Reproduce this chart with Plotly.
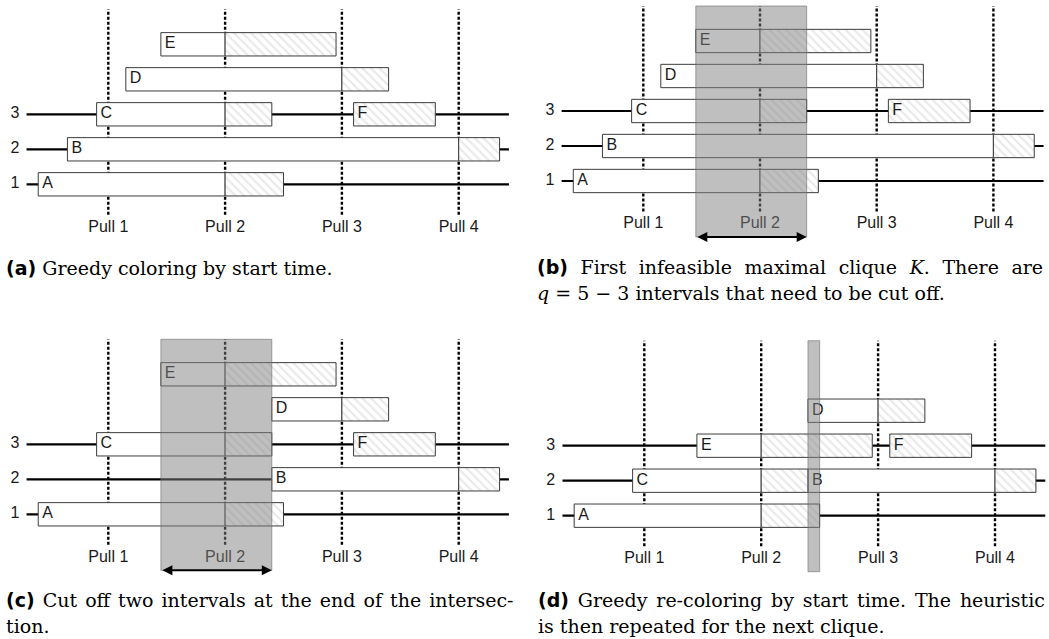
import plotly.graph_objects as go

W, H = 1049, 639

# ---------------- data ----------------
interval_names = ["A", "B", "C", "D", "E", "F"]
pulls = [1, 2, 3, 4]
pull_labels = ["Pull 1", "Pull 2", "Pull 3", "Pull 4"]
row_ids = [1, 2, 3]
row_labels = ["1", "2", "3"]

end_times = [2.50, 4.35, 2.40, 3.40, 2.95, 3.80]
hatch_from = [2.0, 4.0, 2.0, 3.0, 2.0, 3.10]

start_a = [0.40, 0.65, 0.90, 1.15, 1.45, 3.10]
rows_a = [1, 2, 3, 4, 5, 3]

start_c = [0.40, 2.40, 0.90, 2.40, 1.45, 3.10]
rows_c = [1, 2, 3, 4, 5, 3]
rows_d = [1, 2, 2, 4, 3, 3]

clique_b = [1.45, 2.40]
clique_d = [2.40, 2.50]

row_line_span = [0.30, 4.43]

BOLD = '<span style="font-family:DejaVu Sans"><b>{}</b></span>'


def ws(text, px):
    return '<span style="word-spacing:{}px">{}</span>'.format(px, text)


captions = {
    "a": [BOLD.format("(a)") + " Greedy coloring by start time."],
    "b": [BOLD.format("(b)") + ws(" First infeasible maximal clique <i>K</i>. There are", 6.5),
          "<i>q</i> = 5 − 3 intervals that need to be cut off."],
    "c": [BOLD.format("(c)") + ws(" Cut off two intervals at the end of the intersec-", 2.0),
          "tion."],
    "d": [BOLD.format("(d)") + ws(" Greedy re-coloring by start time. The heuristic", 2.8),
          "is then repeated for the next clique."],
}

# ---------------- layout helpers ----------------
ROW_PX = 35.0
XR = [0.1, 4.45]
YR = [-0.75, 6.1]

panels = [
    dict(key="a", starts=start_a, rows=rows_a, clique=None, arrow=False,
         p1=108.3, step=116.8, rowA=184.3, cx=4, cy=[268]),
    dict(key="b", starts=start_a, rows=rows_a, clique=clique_b, arrow=True,
         p1=643.3, step=116.7, rowA=181.0, cx=535, cy=[267, 293]),
    dict(key="c", starts=start_c, rows=rows_c, clique=clique_b, arrow=True,
         p1=108.3, step=116.8, rowA=514.3, cx=4, cy=[600, 626]),
    dict(key="d", starts=start_c, rows=rows_d, clique=clique_d, arrow=False,
         p1=644.3, step=116.9, rowA=515.7, cx=536, cy=[600, 626]),
]

fig = go.Figure()
shapes = []
annotations = []
layout_axes = {}

LABEL_FONT = dict(family="Liberation Sans, Arial, sans-serif", size=16, color="#1a1a1a")

for i, p in enumerate(panels):
    sfx = "" if i == 0 else str(i + 1)
    xa, ya = "x" + sfx, "y" + sfx
    x0px = p["p1"] + (XR[0] - 1) * p["step"]
    x1px = p["p1"] + (XR[1] - 1) * p["step"]
    ytop = p["rowA"] - ROW_PX * (YR[1] - 1)
    ybot = p["rowA"] + ROW_PX * (1 - YR[0])
    layout_axes["xaxis" + sfx] = dict(domain=[x0px / W, x1px / W], range=XR, visible=False,
                                      anchor=ya, fixedrange=True)
    layout_axes["yaxis" + sfx] = dict(domain=[1 - ybot / H, 1 - ytop / H], range=YR, visible=False,
                                      anchor=xa, fixedrange=True)

    # row lines (below bars)
    for r in row_ids:
        shapes.append(dict(type="line", xref=xa, yref=ya, x0=row_line_span[0], x1=row_line_span[1],
                           y0=r, y1=r, layer="below", line=dict(color="black", width=2.2)))
    # pull dashed lines (below bars)
    for pl in pulls:
        shapes.append(dict(type="line", xref=xa, yref=ya, x0=pl, x1=pl, y0=0.13, y1=6.0,
                           layer="below", line=dict(color="black", width=2.4, dash="3px,2px")))

    starts = p["starts"]
    rows = p["rows"]
    wb, wx, wy = [], [], []
    hb, hx, hy = [], [], []
    for s, e, h, r in zip(starts, end_times, hatch_from, rows):
        hs = max(h, s)
        if hs > s:
            wb.append(s); wx.append(hs - s); wy.append(r)
        if e > hs:
            hb.append(hs); hx.append(e - hs); hy.append(r)
    fig.add_trace(go.Bar(orientation="h", base=wb, x=wx, y=wy, width=0.667,
                         marker=dict(color="white", line=dict(color="#3c3c3c", width=1)),
                         xaxis=xa, yaxis=ya, showlegend=False, hoverinfo="skip"))
    fig.add_trace(go.Bar(orientation="h", base=hb, x=hx, y=hy, width=0.667,
                         marker=dict(color="white", line=dict(color="#3c3c3c", width=1),
                                     pattern=dict(shape="\\", fgcolor="#d2d2d2", bgcolor="white",
                                                  size=6, solidity=0.35, fillmode="overlay")),
                         xaxis=xa, yaxis=ya, showlegend=False, hoverinfo="skip"))
    off = 4.0 / p["step"]
    fig.add_trace(go.Scatter(x=[s + off for s in starts], y=rows, text=interval_names, mode="text",
                             textposition="middle right", textfont=LABEL_FONT, cliponaxis=False,
                             xaxis=xa, yaxis=ya, showlegend=False, hoverinfo="skip"))
    fig.add_trace(go.Scatter(x=pulls, y=[-0.24] * len(pulls), text=pull_labels, mode="text",
                             textposition="middle center", textfont=LABEL_FONT, cliponaxis=False,
                             xaxis=xa, yaxis=ya, showlegend=False, hoverinfo="skip"))
    fig.add_trace(go.Scatter(x=[0.2] * len(row_ids), y=row_ids, text=row_labels, mode="text",
                             textposition="middle center", textfont=LABEL_FONT, cliponaxis=False,
                             xaxis=xa, yaxis=ya, showlegend=False, hoverinfo="skip"))

    if p["clique"] is not None:
        c0, c1 = p["clique"]
        shapes.append(dict(type="rect", xref=xa, yref=ya, x0=c0, x1=c1, y0=-0.6, y1=6.0,
                           layer="above", fillcolor="rgba(128,128,128,0.5)",
                           line=dict(color="rgba(100,100,100,0.55)", width=1)))
        if p["arrow"]:
            annotations.append(dict(x=c1, y=-0.6, ax=c0, ay=-0.6, xref=xa, yref=ya, axref=xa, ayref=ya,
                                    text="", showarrow=True, arrowhead=2, startarrowhead=2,
                                    arrowside="end+start", arrowsize=1, startarrowsize=1,
                                    arrowwidth=2, arrowcolor="black", standoff=0, startstandoff=0))

    for line, cy in zip(captions[p["key"]], p["cy"]):
        annotations.append(dict(x=p["cx"] / W, y=1 - cy / H, xref="paper", yref="paper",
                                xanchor="left", yanchor="middle", showarrow=False, text=line,
                                font=dict(family="DejaVu Serif, serif", size=19, color="black")))

fig.update_layout(width=W, height=H, margin=dict(l=0, r=0, t=0, b=0),
                  paper_bgcolor="white", plot_bgcolor="white", barmode="overlay",
                  shapes=shapes, annotations=annotations, **layout_axes)

fig.write_html("out.html", config={"displayModeBar": False, "staticPlot": True},
               post_script="document.body.style.margin='0';document.body.style.overflow='hidden';")
